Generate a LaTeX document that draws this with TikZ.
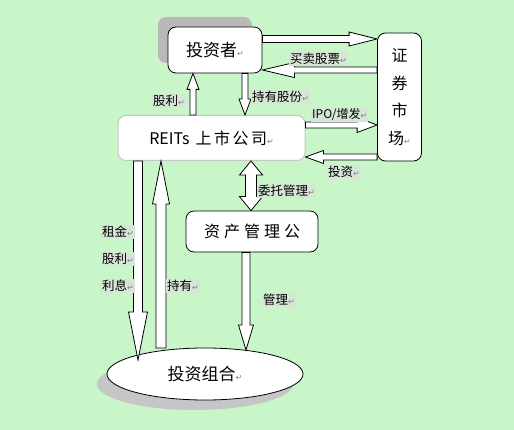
\documentclass[tikz,border=0pt]{standalone}
\usepackage{fontspec}
\setmainfont{Noto Sans CJK SC}
\newfontfamily\symfont{DejaVu Sans}
\usepackage{tikz}
\usetikzlibrary{positioning, calc, shapes.geometric, shadows}
\definecolor{bggreen}{RGB}{200,246,200}
\definecolor{labelbg}{RGB}{214,230,214}
\newcommand{\pmark}{{\symfont\fontsize{8}{8}\selectfont\color{gray}↵}}
% hollow arrow: from, to, half shaft, half head, head length
\newcommand{\fatarrow}[5]{%
  \draw[fatline] ($(#1)!#3!90:(#2)$) -- ($(#2)!#5!(#1)!#3!90:(#2)$) -- ($(#2)!#5!(#1)!#4!90:(#2)$) -- (#2)
    -- ($(#2)!#5!(#1)!#4!-90:(#2)$) -- ($(#2)!#5!(#1)!#3!-90:(#2)$) -- ($(#1)!#3!-90:(#2)$) -- cycle;}
% hollow arrow with two heads
\newcommand{\fatdarrow}[5]{%
  \draw[fatline] (#1) -- ($(#1)!#5!(#2)!#4!90:(#2)$) -- ($(#1)!#5!(#2)!#3!90:(#2)$) -- ($(#2)!#5!(#1)!#3!90:(#2)$)
    -- ($(#2)!#5!(#1)!#4!90:(#2)$) -- (#2) -- ($(#2)!#5!(#1)!#4!-90:(#2)$) -- ($(#2)!#5!(#1)!#3!-90:(#2)$)
    -- ($(#1)!#5!(#2)!#3!-90:(#2)$) -- ($(#1)!#5!(#2)!#4!-90:(#2)$) -- cycle;}

\begin{document}
\begin{tikzpicture}[x=1pt, y=-1pt,
    box/.style={draw, rounded corners=8pt, fill=white, line width=0.8pt, font=\fontsize{17}{20}\selectfont},
    lbl/.style={fill=labelbg, inner sep=1pt, anchor=west, font=\fontsize{12.5}{14}\selectfont},
    fatline/.style={draw, fill=white, line width=0.8pt, line join=miter}]
        \fill[bggreen] (0,0) rectangle (514,430);
        \useasboundingbox (0,0) rectangle (514,430);
        % Boxes
        \node (investor) [box, minimum width=94pt, minimum height=46pt,
            general shadow={fill=gray!55, shadow xshift=-10pt, shadow yshift=10pt}] at (215,50) {投资者\pmark};
        \node (market) [box, minimum width=44pt, minimum height=128pt, align=center,
            font=\fontsize{16}{27.5}\selectfont] at (399.5,97) {证\\券\\市\\场\pmark};
        \node (reits) [box, draw=gray!45, line width=1pt, minimum width=187pt, minimum height=45pt,
            font=\fontsize{16}{20}\selectfont] at (211.5,138) {REITs\hspace{6pt}上\hspace{2.5pt}市\hspace{2.5pt}公\hspace{2.5pt}司\pmark};
        \node (amc) [box, minimum width=132pt, minimum height=41pt,
            font=\fontsize{16}{20}\selectfont] at (252,231.5) {资\hspace{4pt}产\hspace{4pt}管\hspace{4pt}理\hspace{4pt}公};
        \node (portfolio) [ellipse, draw, fill=white, line width=0.8pt, minimum width=196pt, minimum height=52pt,
            font=\fontsize{17}{20}\selectfont,
            general shadow={fill=gray!45, shadow xshift=-10pt, shadow yshift=-10pt}] at (205,374) {投资组合\pmark};
        % Arrow ends
        \coordinate (a1s) at ([yshift=11pt]investor.east);
        \coordinate (a1e) at (a1s -| market.west);
        \coordinate (a2s) at ([yshift=-20pt]investor.east);
        \coordinate (a2e) at (a2s -| market.west);
        \coordinate (a3t) at ([xshift=-22pt]investor.south);
        \coordinate (a3b) at (a3t |- reits.north);
        \coordinate (a4t) at ([xshift=30pt]investor.south);
        \coordinate (a4b) at (a4t |- reits.north);
        \coordinate (a5s) at ([yshift=13pt]reits.east);
        \coordinate (a5e) at (a5s -| market.west);
        \coordinate (a6s) at ([yshift=-19pt]reits.east);
        \coordinate (a6e) at (a6s -| market.west);
        \coordinate (a7t) at ([xshift=39.5pt]reits.south);
        \coordinate (a7b) at (a7t |- amc.north);
        \coordinate (a8t) at ([xshift=-73.5pt]reits.south);
        \coordinate (a8b) at ($(portfolio.center)+(-67,-14)$);
        \coordinate (a9t) at ([xshift=-50.5pt]reits.south);
        \coordinate (a9b) at ($(portfolio.center)+(-44,-26)$);
        \coordinate (a10t) at ([xshift=-6pt]amc.south);
        \coordinate (a10b) at ($(portfolio.center)+(41,-24)$);
        % Arrows
        \fatarrow{a1s}{a1e}{3.5pt}{7pt}{28pt}
        \fatarrow{a2e}{a2s}{3pt}{7.5pt}{32pt}
        \fatarrow{a3b}{a3t}{3pt}{6pt}{16pt}
        \fatarrow{a4t}{a4b}{3pt}{6pt}{16pt}
        \fatarrow{a5s}{a5e}{3pt}{7.5pt}{20pt}
        \fatarrow{a6e}{a6s}{3pt}{6.5pt}{18pt}
        \fatdarrow{a7t}{a7b}{5.5pt}{11.5pt}{14pt}
        \fatarrow{a8t}{a8b}{4.5pt}{9.5pt}{48pt}
        \fatarrow{a9b}{a9t}{5pt}{8.5pt}{43pt}
        \fatarrow{a10t}{a10b}{4pt}{7.5pt}{25pt}
        % Labels
        \node (trade) [lbl] at (289,59) {买卖股票\pmark};
        \node (divtop) [lbl] at (152,101) {股利\pmark};
        \node (hold) [lbl] at (251,97) {持有股份\pmark};
        \node (ipo) [lbl, font=\fontsize{12}{14}\selectfont] at (311,115) {IPO/增发\pmark};
        \node (invest) [lbl] at (327,172) {投资\pmark};
        \node (entrust) [lbl] at (257,191) {委托管理\pmark};
        \node (rent) [lbl] at (101,232) {租金\pmark};
        \node (divleft) [lbl] at (101,259) {股利\pmark};
        \node (interest) [lbl] at (101,286) {利息\pmark};
        \node (own) [lbl] at (166,286) {持有\pmark};
        \node (manage) [lbl] at (262,300) {管理\pmark};
\end{tikzpicture}
\end{document}
